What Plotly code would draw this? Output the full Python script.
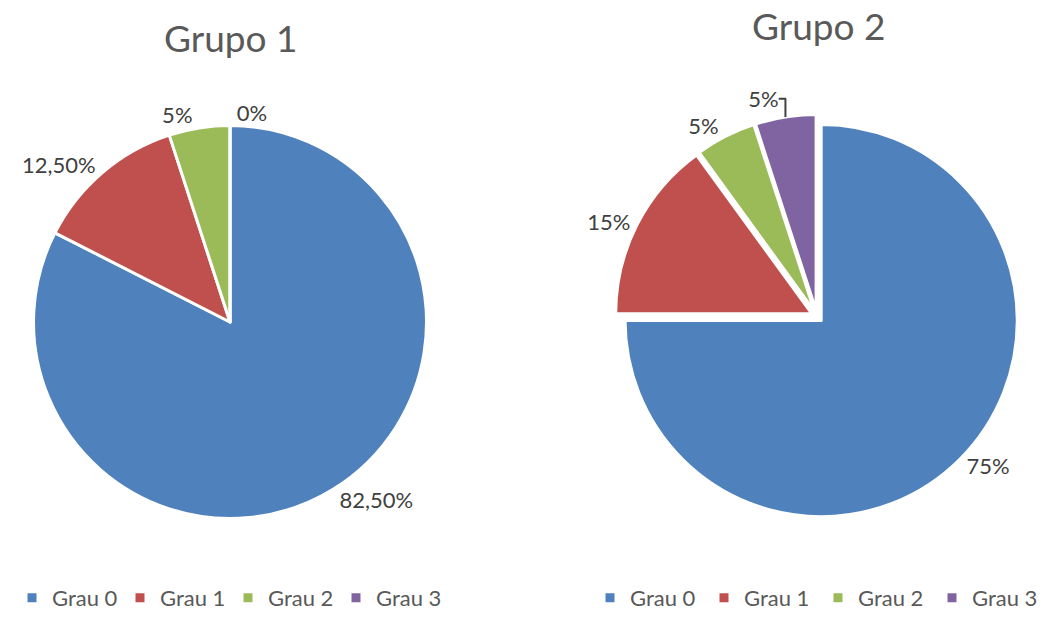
import plotly.graph_objects as go

categories = ["Grau 0", "Grau 1", "Grau 2", "Grau 3"]
grupo1_values = [82.5, 12.5, 5, 0]
grupo1_text = ["82,50%", "12,50%", "5%", "0%"]
grupo2_values = [75, 15, 5, 5]
grupo2_text = ["75%", "15%", "5%", "5%"]
titles = ["Grupo 1", "Grupo 2"]
colors = ["#4F81BD", "#C0504D", "#9BBB59", "#8064A2"]

FONT = "Lato, 'Open Sans', sans-serif"

fig = go.Figure()
fig.add_trace(go.Pie(
    labels=categories, values=grupo1_values, text=grupo1_text,
    textinfo="text", textposition="outside", sort=False, direction="clockwise",
    marker=dict(colors=colors, line=dict(color="white", width=3)),
    domain=dict(x=[0.0320, 0.4078], y=[0.1624, 0.7972]),
    textfont=dict(size=22, color="#404040", family=FONT),
    legend="legend", legendgroup="g1", hoverinfo="label+text",
))
fig.add_trace(go.Pie(
    labels=categories, values=grupo2_values, text=grupo2_text,
    textinfo="text", textposition="outside", sort=False, direction="clockwise",
    pull=[0.03, 0.03, 0.03, 0.03],
    marker=dict(colors=colors, line=dict(color="white", width=3)),
    domain=dict(x=[0.5880, 0.9742], y=[0.1626, 0.8152]),
    textfont=dict(size=22, color="#404040", family=FONT),
    legend="legend2", legendgroup="g2", hoverinfo="label+text",
))

fig.update_layout(
    width=1046, height=619,
    margin=dict(l=0, r=0, t=0, b=0),
    paper_bgcolor="white", plot_bgcolor="white",
    font=dict(family=FONT, color="#595959"),
    annotations=[
        dict(text=titles[0], x=230/1046, y=1-38/619, xref="paper", yref="paper",
             showarrow=False, font=dict(size=37, color="#595959", family=FONT),
             xanchor="center", yanchor="middle"),
        dict(text=titles[1], x=818/1046, y=1-25/619, xref="paper", yref="paper",
             showarrow=False, font=dict(size=37, color="#595959", family=FONT),
             xanchor="center", yanchor="middle"),
    ],
    legend=dict(orientation="h", x=12/1046, y=0, xanchor="left", yanchor="bottom",
                traceorder="normal",
                font=dict(size=22, color="#595959", family=FONT),
                itemwidth=30, entrywidth=63, bgcolor="rgba(0,0,0,0)"),
    legend2=dict(orientation="h", x=1, y=0, xanchor="right", yanchor="bottom",
                 traceorder="normal",
                 font=dict(size=22, color="#595959", family=FONT),
                 itemwidth=30, entrywidth=69, bgcolor="rgba(0,0,0,0)"),
)

fig.write_html("out.html", config={"displayModeBar": False},
               post_script="document.body.style.margin='0';document.body.style.padding='0';")
